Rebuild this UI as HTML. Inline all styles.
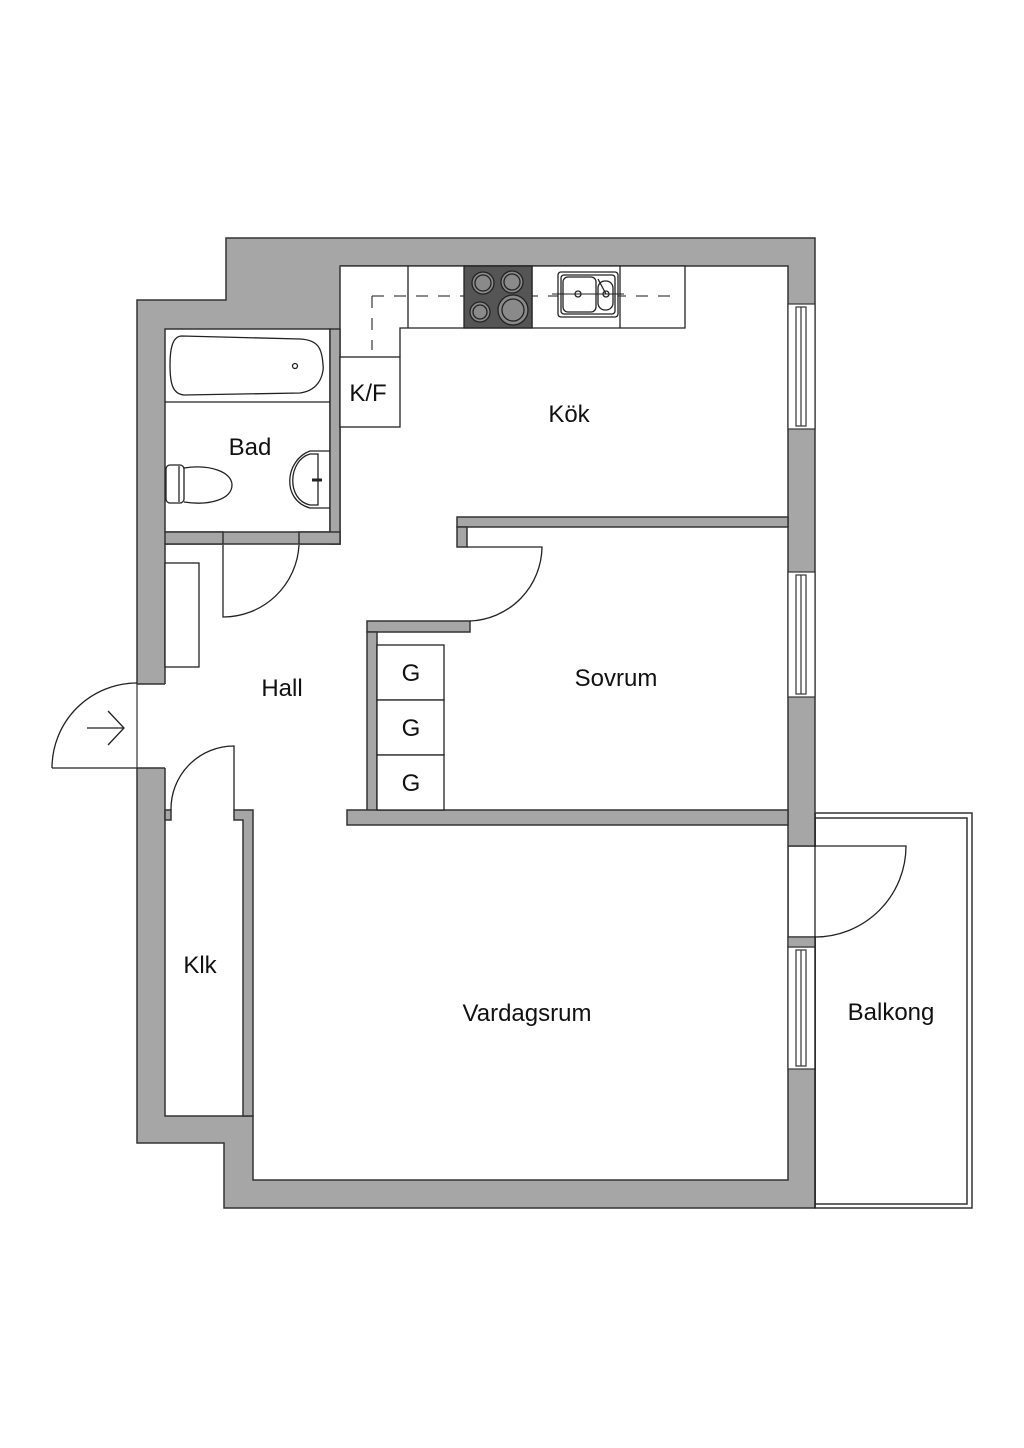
<!DOCTYPE html>
<html><head><meta charset="utf-8"><style>html,body{margin:0;padding:0;background:#fff}svg{display:block}text{font-family:"Liberation Sans",sans-serif;font-size:24px;fill:#111;text-anchor:middle}</style></head><body>
<svg width="1024" height="1448" viewBox="0 0 1024 1448" xmlns="http://www.w3.org/2000/svg">
<g stroke="#333" stroke-width="1.5">
<!-- balcony -->
<rect x="815" y="813" width="157" height="395" fill="#fff"/>
<rect x="815" y="818" width="152" height="386" fill="none"/>
<!-- outer walls -->
<polygon points="226,238 815,238 815,1208 224,1208 224,1143 137,1143 137,300 226,300" fill="#a6a6a6"/>
<!-- interior -->
<rect x="165" y="329" width="165" height="203" fill="#fff"/>
<polygon points="340,329 340,266 788,266 788,1180 253,1180 253,1116 165,1116 165,544 340,544" fill="#fff"/>
</g>
<!-- entry opening -->
<rect x="136" y="684" width="31" height="84" fill="#fff"/>
<g stroke="#333" stroke-width="1.5" fill="#a6a6a6">
<rect x="330" y="329" width="10" height="215"/>
<rect x="165" y="532" width="58" height="12"/>
<rect x="299" y="532" width="41" height="12"/>
<rect x="457" y="517" width="331" height="10"/>
<rect x="457" y="527" width="10" height="20"/>
<rect x="367" y="621" width="103" height="11"/>
<rect x="367" y="632" width="10" height="180"/>
<rect x="347" y="810" width="441" height="15"/>
<rect x="165" y="810" width="6" height="10"/>
<polygon points="234,810 253,810 253,1116 243,1116 243,820 234,820"/>
</g>
<!-- fix hall left wall edge lines -->
<line x1="137" y1="684" x2="137" y2="768" stroke="#333" stroke-width="1.2"/>
<line x1="137" y1="684" x2="165" y2="684" stroke="#333" stroke-width="1.5"/>
<line x1="137" y1="768" x2="165" y2="768" stroke="#333" stroke-width="1.5"/>
<!-- windows -->
<g stroke="#333" stroke-width="1.2" fill="#fff">
<rect x="788" y="304" width="27" height="125"/><rect x="796" y="307" width="10" height="119"/><line x1="801" y1="307" x2="801" y2="426"/>
<rect x="788" y="572" width="27" height="125"/><rect x="796" y="575" width="10" height="119"/><line x1="801" y1="575" x2="801" y2="694"/>
<rect x="788" y="947" width="27" height="122"/><rect x="796" y="950" width="10" height="116"/><line x1="801" y1="950" x2="801" y2="1066"/>
</g>
<rect x="789" y="847" width="30" height="89" fill="#fff"/>
<rect x="788" y="937" width="27" height="10" fill="#a6a6a6" stroke="#333" stroke-width="1.2"/>
<g stroke="#222" stroke-width="1.3" fill="none">
<line x1="815" y1="813" x2="815" y2="1208"/>
<line x1="788" y1="846" x2="815" y2="846"/>
<!-- doors -->
<path d="M815,846 L906,846 A91,91 0 0 1 815,937"/>
<path d="M52,768 L137,768 M52,768 A85,85 0 0 1 137,683"/>
<path d="M87,728 L124,728 M108,711 L124,728 L108,745"/>
<path d="M223,545 L223,617 A76,76 0 0 0 299,545"/>
<path d="M467,547 L542,547 A75,75 0 0 1 470,621"/>
<path d="M234,810 L234,746 A63,63 0 0 0 171,810"/>
<!-- hall shelf -->
<rect x="165" y="563" width="34" height="104" fill="#fff"/>
<!-- closets -->
<rect x="377" y="645" width="67" height="55" fill="#fff"/>
<rect x="377" y="700" width="67" height="55" fill="#fff"/>
<rect x="377" y="755" width="67" height="55" fill="#fff"/>
<!-- kitchen counter -->
<path d="M340,266 L685,266 L685,328 L400,328 L400,357" fill="#fff"/>
<rect x="340" y="357" width="60" height="70" fill="#fff"/>
<line x1="408" y1="266" x2="408" y2="328"/>
<line x1="620" y1="266" x2="620" y2="328"/>
<line x1="532" y1="266" x2="532" y2="328"/>
<path d="M372,296 L680,296 M372,296 L372,350" stroke-dasharray="12,10" stroke="#444"/>
<rect x="464" y="266" width="68" height="62" fill="#555"/>
<g fill="#8a8a8a" stroke="#222">
<circle cx="483" cy="283" r="11"/><circle cx="483" cy="283" r="8"/>
<circle cx="512" cy="282" r="11"/><circle cx="512" cy="282" r="8"/>
<circle cx="480" cy="312" r="10"/><circle cx="480" cy="312" r="7"/>
<circle cx="513" cy="310" r="15"/><circle cx="513" cy="310" r="11"/>
</g>
<rect x="558" y="272" width="60" height="45" rx="3" fill="#fff"/>
<rect x="561" y="275" width="54" height="39" rx="3"/>
<rect x="563" y="277" width="33" height="35" rx="5"/>
<rect x="598" y="281" width="15" height="29" rx="7"/>
<line x1="552" y1="294" x2="624" y2="294" stroke-width="1"/>
<circle cx="578" cy="294" r="3"/><circle cx="606" cy="294" r="3"/>
<line x1="598" y1="279" x2="606" y2="294"/>
<!-- bathroom -->
<line x1="165" y1="402" x2="330" y2="402"/>
<path d="M182,336 C172,336 170,350 170,365 C170,382 172,394 184,395 L300,393 C322,390 324,370 323,365 C322,348 318,340 300,339 Z"/>
<circle cx="295" cy="366" r="2.5"/>
<rect x="166" y="465" width="18" height="38" rx="4" fill="#fff"/>
<path d="M184,468 C210,464 232,472 232,485 C232,499 210,506 184,502"/>
<line x1="179" y1="466" x2="179" y2="502"/>
<path d="M330,451 L310,451 C285,460 281,500 310,508 L330,508"/>
<path d="M310,454 C288,460 286,500 310,505 L318,505 L318,454 Z"/>
<line x1="312" y1="480" x2="322" y2="480" stroke-width="3"/>
</g>
<text x="569" y="422">Kök</text>
<text x="250" y="455">Bad</text>
<text x="368" y="401">K/F</text>
<text x="282" y="696">Hall</text>
<text x="616" y="686">Sovrum</text>
<text x="411" y="681">G</text>
<text x="411" y="736">G</text>
<text x="411" y="791">G</text>
<text x="200" y="973">Klk</text>
<text x="527" y="1021">Vardagsrum</text>
<text x="891" y="1020">Balkong</text>
</svg>
</body></html>
